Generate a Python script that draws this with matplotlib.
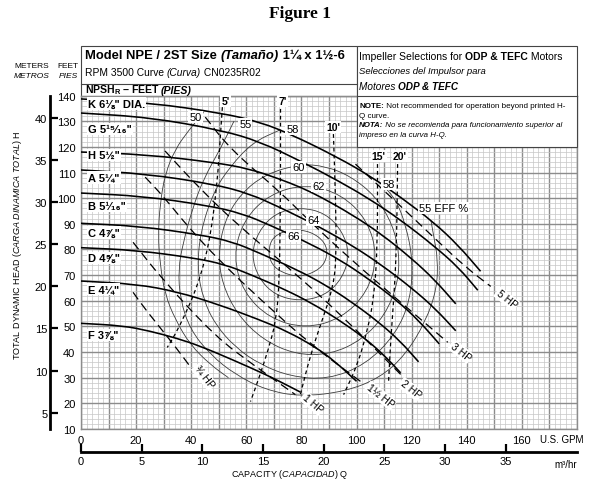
import matplotlib
matplotlib.use("Agg")
import matplotlib.pyplot as plt
from matplotlib.font_manager import findfont, FontProperties
from matplotlib.path import Path
from matplotlib.patches import PathPatch, Rectangle


def have_font(name):
    try:
        findfont(FontProperties(family=name), fallback_to_default=False)
        return True
    except ValueError:
        return False


NARROW = "Liberation Sans Narrow" if have_font("Liberation Sans Narrow") else "Liberation Sans"
plt.rcParams["font.family"] = [NARROW, "DejaVu Sans"]
plt.rcParams["mathtext.fontset"] = "custom"
plt.rcParams["mathtext.rm"] = NARROW
plt.rcParams["mathtext.it"] = NARROW + ":italic"
plt.rcParams["mathtext.bf"] = NARROW + ":bold"

W, H = 605, 485

# head curves per impeller diameter: (US GPM, feet)
head_K = [(0, 138.7), (25, 137.2), (51, 133.2), (65, 129.7), (77, 124.5), (93, 116), (105, 108.6),
          (116, 100.4), (128, 90.6), (137, 81.5), (145, 71.5)]
head_G = [(0, 133.2), (25, 131.5), (51, 126.5), (65, 122), (79.6, 114.5), (93, 107), (105, 99.5),
          (116, 91.5), (128, 81.5), (137, 73), (144, 64.1)]
head_H = [(0, 118), (23.5, 117), (48, 114), (61, 111.5), (72, 107.5), (79.6, 104.3), (87, 100.5),
          (98.5, 93.5), (109, 86), (120, 76.5), (128.5, 68), (136, 58.8)]
head_A = [(0, 111), (23.5, 109.5), (48, 105.5), (61, 101.8), (72, 96.5), (79.6, 92.5), (87, 88.5),
          (98.5, 81.5), (109, 74), (120, 65), (128.5, 57), (136, 48.3)]
head_B = [(0, 102), (22.4, 100.8), (45.7, 97.2), (58.3, 94.1), (69, 89.3), (83.4, 82.1), (94.2, 75.8),
          (104, 68.8), (114.8, 60), (122.8, 52), (130, 43.2)]
head_C = [(0, 90.2), (21, 89.1), (43, 85.8), (55, 83), (65, 78.5), (78.6, 72), (88.8, 66.1),
          (98, 59.7), (108, 51.7), (115.8, 44.3), (122.5, 36.2)]
head_D = [(0, 80.7), (20, 79.7), (41, 76.7), (52, 74.2), (61.6, 70.2), (74.4, 64.2), (84, 58.9),
          (92.8, 53.1), (102.4, 45.9), (109.6, 39.2), (116, 31.9)]
head_E = [(0, 67.7), (20, 66.5), (35, 63.5), (50, 58.5), (65, 52.5), (75, 48), (85, 42),
          (92, 36.5), (100, 28.6)]
head_F = [(0, 51.2), (15, 50.3), (25, 48.2), (35, 45.3), (43.3, 42.3), (55, 37), (67.5, 31),
          (74, 27.5), (79.6, 24.4)]
impeller_labels = ["K 6\u215b\" DIA.", "G 5\u00b9\u2075\u2044\u2081\u2086\"", "H 5\u00bd\"",
                   "A 5\u00bc\"", "B 5\u00b9\u2044\u2081\u2086\"", "C 4\u215e\"", "D 4\u215d\"",
                   "E 4\u00bc\"", "F 3\u215e\""]
impeller_label_ft = [136.9, 127, 116.9, 108.1, 97, 86.6, 76.8, 64.5, 46.6]

# efficiency contours (%)
eff66 = [(68.0, 80.1), (69.8, 85.2), (76.0, 87.9), (83.3, 87.1), (88.7, 82.8), (89.5, 77.3),
         (86.9, 72.3), (79.6, 69.1), (72.4, 71.1), (68.7, 75.0)]
eff64 = [(97.5, 78.1), (94.9, 87.1), (88.7, 94.2), (79.6, 96.5), (70.5, 94.2), (64.4, 87.1),
         (61.8, 78.1), (64.4, 68.8), (70.5, 62.1), (79.6, 59.8), (88.7, 62.1), (94.9, 68.8)]
eff62 = [(107.6, 77.3), (104, 91.4), (94.5, 101.6), (81.5, 105.5), (68.4, 101.6), (58.9, 91.4),
         (55.3, 77.3), (58.9, 63.3), (68.4, 53.1), (81.5, 49.2), (94.5, 53.1), (104, 63.3)]
eff60 = [(79.6, 113.3), (66.9, 109.4), (57.8, 101.6), (52, 91), (49.8, 78.1), (51.3, 66.4),
         (56.7, 54.7), (65.8, 44.9), (77.8, 39), (90.5, 39), (102.2, 44.9), (110.5, 54.7),
         (114.9, 66.4), (115.6, 78.1), (113.1, 89.8), (106.9, 100.8), (97.8, 108.6), (88.7, 112.5)]
eff58 = [(72, 126.5), (62.5, 121.9), (54.2, 112.5), (48, 102.3), (43.3, 86.7), (42.2, 72.3),
         (44.4, 60.5), (48.7, 50.8), (56, 41.8), (65.1, 35.1), (76, 30.5), (89.5, 29.3),
         (103.3, 35.1), (114.2, 46.9), (119.6, 60.5), (120.4, 76.2), (117.8, 89.8),
         (114.2, 99.6), (109, 105.7)]
eff55 = [(55.5, 130), (50.5, 119.1), (44.4, 107.4), (40.4, 95.7), (37.1, 82.8), (35.3, 72.3),
         (36, 60.5), (39.6, 48.8), (46.9, 39), (56, 31.2), (66.9, 25.3), (79.6, 22.6), (96, 24.6),
         (108.7, 30.1), (117.8, 39), (125.1, 52), (129.1, 64.5), (129.5, 76.2), (128, 85.2),
         (127, 91.3)]
eff50 = [(44.5, 133.5), (38.9, 126.2), (34.2, 119.1), (30.5, 109.4), (28.7, 97.7), (28, 85.9),
         (28.7, 74.2), (30.5, 62.5), (34.2, 52.7), (39.6, 42.9), (46.9, 35.1), (53.5, 30)]
eff_labels = [("50", 41.5, 131.6), ("55", 59.6, 128.9), ("58", 76.7, 127), ("60", 78.9, 112.1),
              ("62", 86.2, 104.7), ("64", 84.4, 91.4), ("66", 77.1, 85.2), ("58", 111.6, 105.5),
              ("55 EFF %", 131.6, 96.1)]

# NPSHr lines (feet)
npsh5 = [(51.3, 135.5), (50.5, 123), (49.8, 111.3), (48.7, 99.6), (47.3, 87.9), (45.1, 76.2),
         (41.8, 64.5), (37.8, 54.7), (34.2, 46.9), (31.3, 41.8)]
npsh7 = [(72.4, 134.8), (72.4, 99.6), (72, 68.4), (70.9, 52.7), (68, 41), (64.4, 29.3), (61.5, 20.7)]
npsh10 = [(91.6, 125), (92.4, 99.6), (92.7, 76.2), (91.3, 64.5), (87.6, 52.7), (83.3, 39), (79.6, 23.4)]
npsh15 = [(107.6, 113.3), (107.6, 80.1), (106.2, 60.5), (104, 48.8), (100.4, 35.1), (95.3, 23.4)]
npsh20 = [(114.9, 113.3), (114.5, 80.1), (113.5, 60.5), (112.4, 44.9), (111.6, 28.1)]
npsh_labels = [("5'", 52.4, 137.8), ("7'", 73.1, 137.8), ("10'", 91.6, 127.7), ("15'", 108, 116.4),
               ("20'", 115.6, 116.4)]

# horsepower lines
hp_075 = [(18.9, 63.3), (23.3, 56.7), (34.2, 42.2), (40.4, 33.2)]
hp_1 = [(18.9, 82.8), (29.5, 68.4), (48.7, 46.1), (63.3, 34.4), (77.8, 23.4)]
hp_15 = [(23.3, 108.2), (29.8, 100.8), (39.6, 87.9), (50.5, 75.4), (65.1, 60.5), (83.3, 43), (101.5, 28.5)]
hp_2 = [(30.5, 118.4), (43.3, 103.5), (57.8, 88.7), (76, 72.3), (94.2, 54.7), (116, 31.3)]
hp_3 = [(45.1, 131.6), (54.2, 119.1), (72.4, 102.3), (82.2, 91.8), (97.8, 76.2), (116, 59.4), (133.1, 43.8)]
hp_5 = [(99.6, 113.3), (116, 96.9), (128.7, 84), (139.6, 73.1), (148.7, 65.6)]
hp_labels = [("\u00be HP", 44.7, 30.4, -52), ("1 HP", 84, 20, -40), ("1\u00bd HP", 108.7, 23, -38),
             ("2 HP", 119.6, 25.5, -38), ("3 HP", 137.8, 40.2, -38), ("5 HP", 154.5, 60.7, -38)]

gpm_ticks = list(range(0, 181, 10))
feet_ticks = list(range(10, 141, 10))
meter_ticks = [5, 10, 15, 20, 25, 30, 35, 40]
m3h_ticks = [0, 5, 10, 15, 20, 25, 30, 35]


def smooth(pts, closed=False):
    n = len(pts)
    mid = [((pts[i][0] + pts[(i + 1) % n][0]) / 2, (pts[i][1] + pts[(i + 1) % n][1]) / 2) for i in range(n)]
    if closed:
        verts = [mid[-1]]
        codes = [Path.MOVETO]
        for i in range(n):
            verts += [pts[i], mid[i]]
            codes += [Path.CURVE3, Path.CURVE3]
    else:
        verts = [pts[0], mid[0]]
        codes = [Path.MOVETO, Path.LINETO]
        for i in range(1, n - 1):
            verts += [pts[i], mid[i]]
            codes += [Path.CURVE3, Path.CURVE3]
        verts.append(pts[-1])
        codes.append(Path.LINETO)
    return Path(verts, codes)


def draw(ax, pts, closed=False, **kw):
    ax.add_patch(PathPatch(smooth(pts, closed), fill=False, **kw))


def fx(x):
    return x / W


def fy(y):
    return 1 - y / H


fig = plt.figure(figsize=(W / 100, H / 100), dpi=100)
ax = fig.add_axes([fx(81), fy(430), 496 / W, 333.4 / H])
ax.set_xlim(0, 180)
ax.set_ylim(10, 140)

ax.set_xticks(gpm_ticks)
ax.set_xticklabels([str(v) if v % 20 == 0 and v <= 160 else "" for v in gpm_ticks])
ax.set_xticks(range(0, 181, 2), minor=True)
ax.set_yticks(feet_ticks)
ax.set_yticks(range(10, 141, 2), minor=True)
ax.tick_params(which="both", length=0)
ax.tick_params(axis="x", labelsize=8, pad=4)
ax.tick_params(axis="y", labelsize=8, pad=4)
ax.set_axisbelow(True)
ax.grid(which="major", color="#8c8c8c", lw=1.0)
ax.grid(which="minor", color="#c6c6c6", lw=0.5)
for s in ax.spines.values():
    s.set_color("#8c8c8c")
    s.set_linewidth(1.0)

# efficiency
for pts, closed in [(eff66, True), (eff64, True), (eff62, True), (eff60, True),
                    (eff58, False), (eff55, False), (eff50, False)]:
    draw(ax, pts, closed, ec="#3c3c3c", lw=0.6, zorder=3)

# npsh
for pts in [npsh5, npsh7, npsh10, npsh15, npsh20]:
    draw(ax, pts, ec="black", lw=0.9, ls=(0, (3, 2.5)), zorder=4)

# horsepower
for pts in [hp_075, hp_1, hp_15, hp_2, hp_3, hp_5]:
    draw(ax, pts, ec="black", lw=0.9, ls=(0, (7, 4)), zorder=4)

# heads
for pts in [head_K, head_G, head_H, head_A, head_B, head_C, head_D, head_E, head_F]:
    draw(ax, pts, ec="black", lw=1.15, zorder=5)

box = dict(boxstyle="square,pad=0.1", fc="white", ec="none")
for lab, ft in zip(impeller_labels, impeller_label_ft):
    ax.text(2.5, ft, lab, fontsize=8, fontweight="bold", va="center", ha="left", bbox=box, zorder=6)
for lab, q, ft in eff_labels:
    ax.text(q, ft, lab, fontsize=8, va="center", ha="center", bbox=box, zorder=6)
for lab, q, ft in npsh_labels:
    ax.text(q, ft, lab, fontsize=7.5, fontweight="bold", va="center", ha="center", bbox=box, zorder=6)
for lab, q, ft, rot in hp_labels:
    ax.text(q, ft, lab, fontsize=7.5, va="center", ha="center", rotation=rot,
            rotation_mode="anchor", bbox=box, zorder=6)

# header boxes
ax.add_patch(Rectangle((0, 140), 100, 19.3, fill=False, ec="#444", lw=0.8, clip_on=False))
ax.add_patch(Rectangle((100, 120), 80, 39.3, fc="white", ec="#444", lw=0.8, clip_on=False, zorder=7))
ax.plot([100, 180], [140, 140], color="#444", lw=0.8, clip_on=False, zorder=8)
ax.plot([0, 100], [144.5, 144.5], color="#444", lw=0.8, clip_on=False, zorder=8)


def runs(x, y, parts, size):
    t = fig.text(fx(x), fy(y), parts[0][0], fontsize=size, va="center", ha="left", zorder=9, **parts[0][1])
    for s, st in parts[1:]:
        t = ax.annotate(s, xy=(1, 0.5), xycoords=t, va="center", ha="left", fontsize=size,
                        annotation_clip=False, zorder=9, **st)
    return t


B = dict(fontweight="bold")
I = dict(fontstyle="italic")
BI = dict(fontweight="bold", fontstyle="italic")
N = dict()
runs(85, 56, [("Model NPE / 2ST Size ", B), ("(Tama\u00f1o)", BI), (" 1\u00bc x 1\u00bd-6", B)], 9.4)
runs(85, 73, [("RPM 3500 Curve ", N), ("(Curva)", I), (" CN0235R02", N)], 7.4)
runs(85, 90.5, [("NPSH$_\\mathbf{R}$ \u2013 FEET ", B), ("(PIES)", BI)], 7.6)
runs(359, 57, [("Impeller Selections for ", N), ("ODP & TEFC", B), (" Motors", N)], 7.5)
runs(359, 72, [("Selecciones del Impulsor para", I)], 6.8)
runs(359, 87, [("Motores ", I), ("ODP & TEFC", BI)], 7.2)
runs(359, 106.5, [("NOTE:", B), (" Not recommended for operation beyond printed H-", N)], 5.8)
runs(359, 116, [("Q curve.", N)], 5.8)
runs(359, 126, [("NOTA:", BI), (" No se recomienda para funcionamiento superior al", I)], 5.7)
runs(359, 135.5, [("impreso en la curva H-Q.", I)], 5.7)

fig.text(0.496, fy(14), "Figure 1", fontsize=12.5, fontweight="bold", family="Liberation Serif",
         ha="center", va="center")
fig.text(fx(32), fy(66), "METERS", fontsize=6, ha="center", va="center")
fig.text(fx(32), fy(76), "METROS", fontsize=6, style="italic", ha="center", va="center")
fig.text(fx(68), fy(66), "FEET", fontsize=6, ha="center", va="center")
fig.text(fx(68), fy(76), "PIES", fontsize=6, style="italic", ha="center", va="center")
fig.text(fx(18), fy(245), r"TOTAL DYNAMIC HEAD $\mathit{(CARGA\ DINAMICA\ TOTAL)}$ H", fontsize=6.5,
         rotation=90, ha="center", va="center")
fig.text(fx(290), fy(475), r"CAPACITY $\mathit{(CAPACIDAD)}$ Q", fontsize=6.5, ha="center", va="center")
fig.text(fx(562), fy(440), "U.S. GPM", fontsize=7, ha="center", va="center")
fig.text(fx(566), fy(465), "m\u00b3/hr", fontsize=7, ha="center", va="center")

# meters scale on the left
m_ax = ax.secondary_yaxis(-31 / 496, functions=(lambda f: f * 0.3048, lambda m: m / 0.3048))
m_ax.set_yticks(meter_ticks)
m_ax.tick_params(direction="in", length=6, width=1.6, labelsize=8, pad=2)
m_ax.spines["left"].set_linewidth(2)

# m3/hr scale under the chart
q_ax = ax.secondary_xaxis(-23 / 333.4, functions=(lambda g: g / 4.403, lambda m: m * 4.403))
q_ax.set_xticks(m3h_ticks)
q_ax.tick_params(direction="in", length=6, width=1.6, labelsize=8, pad=3)
q_ax.spines["bottom"].set_linewidth(2)

fig.savefig("out.png", dpi=100)
